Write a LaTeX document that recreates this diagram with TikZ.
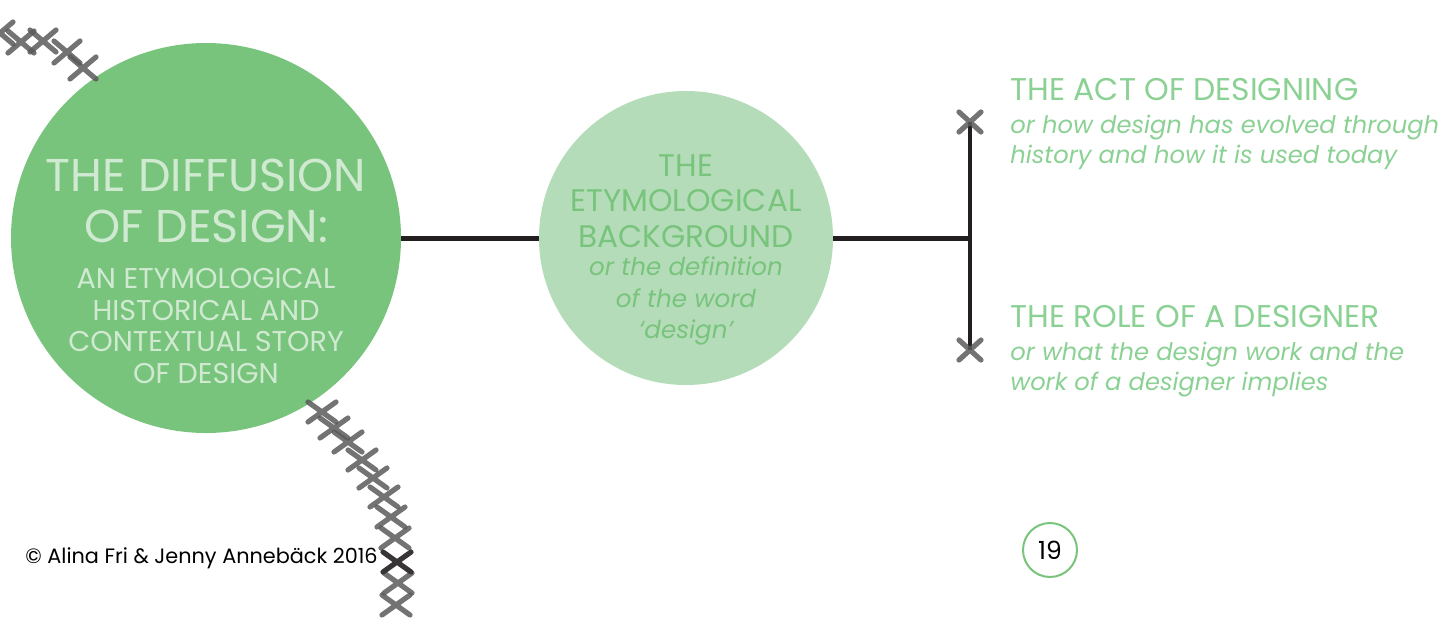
\documentclass[tikz,border=0pt]{standalone}
\usepackage{fontspec}
\setmainfont{Poppins}
\definecolor{leafgreen}{HTML}{78C47C}
\definecolor{palegreen}{HTML}{B4DCB8}
\definecolor{mistgreen}{HTML}{D0EAD2}
\definecolor{softgreen}{HTML}{8BD194}
\definecolor{inkdark}{HTML}{231F20}
\definecolor{threadgrey}{HTML}{5A5A5C}
\begin{document}
\begin{tikzpicture}[x=0.5pt,y=-0.5pt,
  bar/.style={draw=inkdark,line width=2.5pt},
  stitchline/.style={draw=threadgrey,line width=2.6pt,line cap=round,opacity=0.85},
  darkstitch/.style={draw=inkdark!90,line width=2.6pt,line cap=round},
  txt/.style={inner sep=0pt,align=center}]
\useasboundingbox (0,0) rectangle (1441,618);

% main circles
\node[circle,fill=leafgreen,minimum size=195pt,inner sep=0pt] (big) at (206,238) {};
\node[circle,fill=palegreen,minimum size=147pt,inner sep=0pt] (mid) at (686,238) {};

% connectors and the branching bar
\coordinate (jn) at (970,238);
\coordinate (topx) at (970,122);
\coordinate (botx) at (970,350);
\draw[bar] (big.east) -- (mid.west);
\draw[bar] (mid.east) -- (jn);
\draw[draw=inkdark,line width=2pt] (topx) -- (botx);
\draw[stitchline] ([shift={(-11,-10)}]topx) -- ([shift={(11,10)}]topx)
                  ([shift={(-11,10)}]topx) -- ([shift={(11,-10)}]topx);
\draw[stitchline] ([shift={(-11,-10)}]botx) -- ([shift={(11,10)}]botx)
                  ([shift={(-11,10)}]botx) -- ([shift={(11,-10)}]botx);

% cross-stitch chains
\foreach \x/\y in {0/33,21/42,43/41,67/52,83/68}
  \draw[stitchline] (\x-13,\y-11) -- (\x+13,\y+11) (\x-13,\y+11) -- (\x+13,\y-11);
\foreach \x/\y in {322/412,334/428,348/442,362/460,373/478,384/497,391/517,395/538,398/583,396/605}
  \draw[stitchline] (\x-14,\y-10) -- (\x+14,\y+10) (\x-14,\y+10) -- (\x+14,\y-10);
\draw[darkstitch] (383,552) -- (411,572) (383,572) -- (411,552);

% titles in the circles
\node[txt,text=mistgreen,font=\fontsize{23}{25.5}\selectfont] (title) at (206,201) {THE DIFFUSION\\OF DESIGN:};
\node[txt,text=mistgreen,font=\fontsize{14.3}{15.75}\selectfont] (subtitle) at (206,326) {AN ETYMOLOGICAL\\HISTORICAL AND\\CONTEXTUAL STORY\\OF DESIGN};
\node[txt,text=leafgreen,font=\fontsize{15.6}{17.75}\selectfont] (midhead) at (686,201) {THE\\ETYMOLOGICAL\\BACKGROUND};
\node[txt,text=leafgreen,font=\fontsize{12.3}{15.75}\selectfont\itshape] (midsub) at (686,301) {or the definition\\of the word\\`design'};

% branch texts
\node[inner sep=0pt,anchor=base west,text=softgreen,font=\fontsize{15.7}{18}\selectfont] (acthead) at (1010,100) {THE ACT OF DESIGNING};
\node[inner sep=0pt,anchor=base west,text=softgreen,font=\fontsize{12.1}{15}\selectfont\itshape] (actsub1) at (1010,133) {or how design has evolved through};
\node[inner sep=0pt,anchor=base west,text=softgreen,font=\fontsize{12.1}{15}\selectfont\itshape] (actsub2) at (1010,163) {history and how it is used today};
\node[inner sep=0pt,anchor=base west,text=softgreen,font=\fontsize{15.7}{18}\selectfont] (rolehead) at (1010,327) {THE ROLE OF A DESIGNER};
\node[inner sep=0pt,anchor=base west,text=softgreen,font=\fontsize{12.1}{15}\selectfont\itshape] (rolesub1) at (1010,360) {or what the design work and the};
\node[inner sep=0pt,anchor=base west,text=softgreen,font=\fontsize{12.1}{15}\selectfont\itshape] (rolesub2) at (1010,390) {work of a designer implies};

% footer
\node[inner sep=0pt,anchor=base west,text=black,font=\fontsize{10.4}{12}\selectfont] (copy) at (25,563) {© Alina Fri \& Jenny Anneb\"ack 2016};
\node[circle,draw=leafgreen,line width=1pt,minimum size=27pt,inner sep=0pt,font=\fontsize{12.5}{14}\selectfont] (page) at (1050,550) {19};
\end{tikzpicture}
\end{document}
